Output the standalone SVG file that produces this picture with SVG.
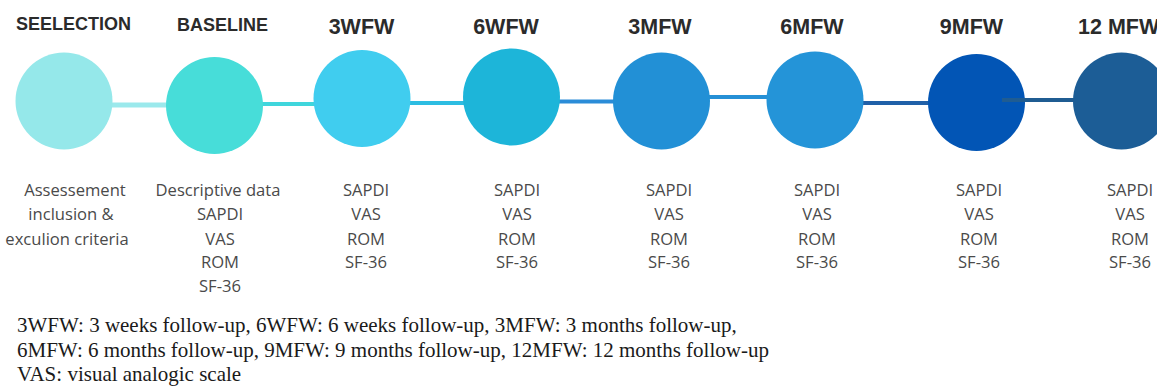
<svg xmlns="http://www.w3.org/2000/svg" width="1157" height="387" viewBox="0 0 1157 387">
<style>
.hd{font-family:"Liberation Sans",Arial,sans-serif;font-weight:bold;fill:#2b2b2b;text-anchor:middle}
.h1{font-size:18px}
.h2{font-size:21.5px}
.bd{font-family:"Open Sans","Liberation Sans",sans-serif;font-size:16.6px;fill:#4a4a4a;text-anchor:middle}
.ft{font-family:"Liberation Serif","Times New Roman",serif;font-size:21px;fill:#1a1a1a}
.cn{fill:none;stroke-linecap:butt}
</style>
<rect width="1157" height="387" fill="#ffffff"/>
<g id="connectors">
<line class="cn" x1="110" y1="105" x2="168" y2="105" stroke="#9BE9EC" stroke-width="5"/>
<line class="cn" x1="261" y1="104" x2="316" y2="104" stroke="#3FD6DC" stroke-width="4"/>
<line class="cn" x1="408" y1="103" x2="465" y2="103" stroke="#2DBDE2" stroke-width="4"/>
<line class="cn" x1="558" y1="101.5" x2="615" y2="101.5" stroke="#2A8CD8" stroke-width="4"/>
<line class="cn" x1="708" y1="97" x2="769" y2="97" stroke="#2590D6" stroke-width="4"/>
<line class="cn" x1="861" y1="103" x2="930" y2="103" stroke="#2060A8" stroke-width="4"/>
</g>
<g id="n1"><circle cx="64" cy="101" r="48.5" fill="#95E8EA"/><text class="hd h1" x="73.5" y="30">SEELECTION</text>
<text class="bd" x="75" y="196">Assessement</text><text class="bd" x="71" y="220">inclusion &amp;</text><text class="bd" x="67" y="245">exculion criteria</text></g>
<g id="n2"><circle cx="214.5" cy="105.5" r="48.5" fill="#47DDD9"/><text class="hd h1" x="222.5" y="31">BASELINE</text>
<text class="bd" x="218" y="196">Descriptive data</text><text class="bd" x="220" y="220">SAPDI</text><text class="bd" x="220" y="245">VAS</text><text class="bd" x="220" y="268">ROM</text><text class="bd" x="220" y="292">SF-36</text></g>
<g id="n3"><circle cx="362" cy="98.5" r="48.5" fill="#40CDEF"/><text class="hd h2" x="361.5" y="34">3WFW</text>
<text class="bd" x="366" y="196">SAPDI</text><text class="bd" x="366" y="220">VAS</text><text class="bd" x="366" y="245">ROM</text><text class="bd" x="366" y="268">SF-36</text></g>
<g id="n4"><circle cx="511.5" cy="97" r="48.5" fill="#1DB5D9"/><text class="hd h2" x="506" y="34">6WFW</text>
<text class="bd" x="517" y="196">SAPDI</text><text class="bd" x="517" y="220">VAS</text><text class="bd" x="517" y="245">ROM</text><text class="bd" x="517" y="268">SF-36</text></g>
<g id="n5"><circle cx="661.5" cy="101" r="48.5" fill="#2290D6"/><text class="hd h2" x="660" y="34">3MFW</text>
<text class="bd" x="669" y="196">SAPDI</text><text class="bd" x="669" y="220">VAS</text><text class="bd" x="669" y="245">ROM</text><text class="bd" x="669" y="268">SF-36</text></g>
<g id="n6"><circle cx="815" cy="100" r="48.5" fill="#2494D8"/><text class="hd h2" x="812" y="34">6MFW</text>
<text class="bd" x="817" y="196">SAPDI</text><text class="bd" x="817" y="220">VAS</text><text class="bd" x="817" y="245">ROM</text><text class="bd" x="817" y="268">SF-36</text></g>
<g id="n7"><circle cx="976.5" cy="102.5" r="48.5" fill="#0255B5"/><text class="hd h2" x="971.5" y="34">9MFW</text>
<text class="bd" x="979" y="196">SAPDI</text><text class="bd" x="979" y="220">VAS</text><text class="bd" x="979" y="245">ROM</text><text class="bd" x="979" y="268">SF-36</text></g>
<g id="connector-7-8"><line class="cn" x1="1002" y1="100" x2="1075" y2="100" stroke="#1F5C92" stroke-width="4"/></g>
<g id="n8"><circle cx="1121.5" cy="101" r="48.5" fill="#1C5D96"/><text class="hd h2" x="1078" y="34" style="text-anchor:start">12 MFW</text>
<text class="bd" x="1130" y="196">SAPDI</text><text class="bd" x="1130" y="220">VAS</text><text class="bd" x="1130" y="245">ROM</text><text class="bd" x="1130" y="268">SF-36</text></g>
<g id="legend">
<text class="ft" x="17" y="332">3WFW: 3 weeks follow-up, 6WFW: 6 weeks follow-up, 3MFW: 3 months follow-up,</text>
<text class="ft" x="17" y="357">6MFW: 6 months follow-up, 9MFW: 9 months follow-up, 12MFW: 12 months follow-up</text>
<text class="ft" x="17" y="381">VAS: visual analogic scale</text>
</g>
</svg>
